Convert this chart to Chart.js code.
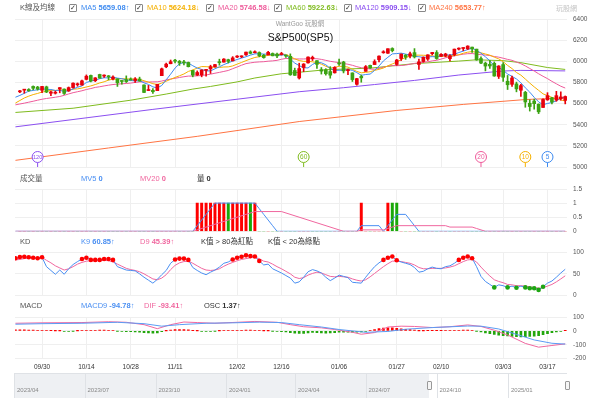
<!DOCTYPE html>
<html>
<head>
<meta charset="utf-8">
<script src="https://cdn.jsdelivr.net/npm/chart.js@4.4.1/dist/chart.umd.min.js"></script>
<style>
  body { margin: 0; background: #fff; font-family: 'Liberation Sans', 'Noto Sans CJK TC', sans-serif; }
  #wrap { position: relative; width: 600px; height: 398px; overflow: hidden; }
  canvas { position: absolute; left: 0; }
  .t { position: absolute; font-size: 7.5px; line-height: 10px; white-space: nowrap; }
  .cb { position: absolute; width: 6px; height: 6px; border: 1px solid #888; border-radius: 1px;
        font: 7px/6px 'DejaVu Sans', sans-serif; text-align: center; color: #333; }
  #nav { position: absolute; left: 14px; top: 373px; width: 553px; height: 25px; border-top: 1px solid #dfe2e6; }
</style>
</head>
<body>
<div id="wrap">
  <canvas id="cMain" width="600" height="176"></canvas>
  <canvas id="cVol" width="600" height="58"></canvas>
  <canvas id="cKD" width="600" height="55"></canvas>
  <canvas id="cMacd" width="600" height="64"></canvas>
  <div id="nav"></div>
</div>
<script>
// ---- data (trading days 0..123, 2024/09/23 - 2025/03/21) ----
const opens = [
  5711,5727,5733,5762,5756,5726,5758,5698,5698,5738,
  5737,5719,5751,5778,5775,5829,5866,5816,5875,5860,
  5858,5833,5834,5817,5826,5833,5818,5832,5776,5723,
  5725,5722,5864,5948,5977,6009,6000,5986,5989,5913,
  5870,5872,5914,5928,5948,5992,5992,6015,6004,6040,
  6042,6061,6089,6081,6083,6057,6060,6074,6068,6064,
  6052,6047,5913,5842,5941,5985,6024,6006,5920,5920,
  5903,5891,5983,5993,5911,5890,5782,5857,5905,5962,
  5969,6015,6081,6076,6121,5970,6026,6058,6050,6082,
  5970,5998,6021,6072,6083,6046,6049,6025,6061,6115,
  6121,6118,6134,6115,6026,5982,5971,5981,5857,5969,
  5811,5782,5786,5726,5706,5603,5624,5594,5563,5635,
  5655,5633,5646,5630];
const highs = [
  5725,5735,5741,5767,5763,5763,5765,5719,5718,5751,
  5739,5757,5796,5795,5822,5871,5870,5846,5878,5872,
  5866,5863,5834,5817,5862,5843,5847,5850,5777,5772,
  5741,5783,5936,5983,6012,6018,6008,6008,5993,5916,
  5909,5920,5920,5963,5972,6020,6025,6020,6044,6053,
  6052,6088,6099,6099,6089,6065,6093,6079,6078,6085,
  6057,6070,5935,5982,5978,6041,6049,6007,5941,5930,
  5949,5949,6021,6000,5927,5891,5838,5871,5960,5964,
  6014,6051,6100,6119,6128,6018,6070,6064,6087,6120,
  6022,6042,6062,6084,6101,6073,6076,6063,6116,6127,
  6129,6147,6134,6115,6043,5992,6009,5994,5959,5987,
  5866,5861,5803,5783,5716,5636,5642,5597,5645,5703,
  5659,5716,5711,5672];
const lows = [
  5704,5698,5715,5730,5727,5704,5703,5674,5690,5702,
  5686,5715,5745,5764,5775,5824,5805,5808,5840,5848,
  5824,5824,5762,5784,5799,5822,5801,5811,5703,5723,
  5696,5722,5864,5939,5976,5985,5961,5966,5946,5853,
  5865,5853,5860,5885,5945,5963,5992,5984,6003,6035,
  6034,6056,6070,6080,6042,6029,6060,6051,6035,6059,
  6036,5867,5866,5832,5902,5983,6007,5932,5879,5869,
  5840,5888,5961,5890,5874,5809,5774,5802,5905,5933,
  5969,5994,6076,6075,6089,5962,6007,6018,6033,6031,
  5923,5991,6008,6060,6019,6046,6042,6003,6051,6107,
  6100,6111,6085,6009,5977,5909,5933,5858,5837,5810,
  5733,5762,5711,5667,5565,5529,5547,5505,5563,5631,
  5597,5622,5632,5597];
const closes = [
  5718,5732,5722,5745,5738,5762,5709,5710,5700,5751,
  5696,5751,5793,5780,5815,5859,5815,5843,5841,5864,
  5853,5851,5797,5809,5808,5823,5833,5813,5705,5729,
  5712,5782,5929,5973,5996,6001,5984,5985,5949,5870,
  5894,5917,5917,5949,5969,5987,6021,5999,6032,6047,
  6050,6087,6075,6090,6053,6035,6085,6052,6051,6074,
  6050,5872,5867,5931,5974,6040,6037,5971,5907,5882,
  5869,5942,5975,5909,5918,5827,5836,5843,5950,5937,
  5997,6049,6086,6119,6101,6012,6068,6039,6071,6041,
  5995,6038,6061,6084,6026,6066,6069,6052,6115,6115,
  6129,6144,6117,6013,5983,5955,5956,5861,5955,5849,
  5778,5842,5739,5770,5615,5572,5599,5522,5639,5675,
  5615,5675,5663,5667];

// moving averages, first value is day -1
const ma5 = [
  5660,5677,5697,5718,5724,5731,5740,5735,5733,5724,5726,
  5713,5722,5738,5754,5767,5800,5812,5822,5835,5844,
  5843,5850,5841,5835,5824,5818,5814,5817,5796,5781,
  5758,5748,5771,5825,5878,5936,5977,5988,5983,5958,
  5936,5923,5909,5909,5929,5948,5969,5985,6002,6017,
  6030,6043,6058,6070,6071,6068,6068,6063,6055,6059,
  6062,6020,5983,5959,5939,5937,5970,5991,5986,5967,
  5933,5914,5915,5915,5923,5914,5893,5867,5875,5879,
  5913,5955,6004,6038,6070,6073,6077,6068,6058,6046,
  6043,6037,6041,6044,6041,6055,6061,6059,6066,6083,
  6096,6111,6124,6104,6077,6042,6005,5954,5942,5915,
  5880,5857,5833,5796,5749,5708,5659,5616,5589,5601,
  5610,5625,5653,5659];
const ma10 = [
  5605,5629,5653,5670,5685,5696,5709,5716,5726,5724,5729,
  5727,5729,5736,5739,5747,5757,5767,5780,5795,5806,
  5822,5831,5832,5835,5834,5831,5832,5829,5816,5803,
  5788,5781,5794,5811,5830,5847,5863,5880,5904,5918,
  5936,5950,5949,5946,5944,5942,5946,5947,5956,5973,
  5989,6006,6022,6036,6044,6049,6056,6061,6063,6065,
  6065,6044,6023,6007,5999,6000,5995,5987,5973,5953,
  5935,5942,5953,5951,5945,5924,5904,5891,5895,5901,
  5914,5924,5936,5957,5975,5993,6016,6036,6048,6058,
  6058,6057,6055,6051,6044,6049,6049,6050,6055,6062,
  6076,6086,6092,6085,6080,6069,6058,6039,6023,5996,
  5961,5931,5894,5869,5832,5794,5758,5725,5692,5675,
  5659,5642,5635,5624];
const ma20 = [
  5588,5596,5604,5613,5622,5632,5641,5648,5654,5660,5667,
  5678,5691,5703,5712,5721,5733,5742,5753,5759,5767,
  5774,5780,5784,5787,5790,5794,5800,5805,5805,5804,
  5805,5806,5813,5823,5832,5839,5847,5854,5860,5860,
  5862,5866,5871,5878,5887,5895,5904,5913,5930,5946,
  5963,5978,5985,5991,5994,5996,6001,6004,6009,6019,
  6027,6025,6022,6022,6022,6024,6025,6024,6018,6009,
  6000,5993,5988,5979,5972,5962,5949,5939,5934,5927,
  5924,5933,5944,5954,5960,5958,5960,5964,5972,5980,
  5986,5991,5995,6004,6009,6021,6033,6043,6052,6060,
  6067,6072,6073,6068,6062,6059,6054,6045,6039,6029,
  6018,6009,5993,5977,5956,5932,5908,5882,5858,5836,
  5810,5787,5764,5747];
// slow averages read at some days: [day, value]
const ma60 = [[-1,5516],[12,5556],[25,5632],[33,5690],[39,5737],[43,5762],[49,5805],[53,5842],[59,5882],
  [63,5896],[69,5920],[79,5935],[89,5978],[99,6002],[103,6014],[109,6006],[113,5987],[119,5941],[123,5923]];
const ma120 = [[-1,5380],[30,5545],[63,5712],[73,5750],[80,5780],[89,5819],[99,5870],[109,5908],
  [113,5914],[119,5911],[123,5909]];
const ma240 = [[-1,5063],[20,5180],[40,5290],[63,5430],[85,5535],[100,5592],[114,5638],[123,5654]];

const maNames = ['MA5', 'MA10', 'MA20', 'MA60', 'MA120', 'MA240'];
const maPeriods = [5, 10, 20, 60, 120, 240];
const maLatest = ['5659.08', '5624.18', '5746.58', '5922.63', '5909.15', '5653.77'];
const maTrend = ['↑', '↓', '↓', '↓', '↓', '↑'];

// volume panel
const volumes = [
  0,0,0,0,0,0,0,0,0,0, 0,0,0,0,0,0,0,0,0,0,
  0,0,0,0,0,0,0,0,0,0, 0,0,0,0,0,0,0,0,0,0,
  1,1,1,1,1,1,1,1,1,1, 1,1,1,1,0,0,0,0,0,0,
  0,0,0,0,0,0,0,0,0,0, 0,0,0,0,0,0,0,1,0,0,
  0,0,0,1,1,1,0,0,0,0, 0,0,0,0,0,0,0,0,0,0,
  0,0,0,0,0,0,0,0,0,0, 0,0,0,0,0,0,0,0,0,0,
  0,0,0,0];
const mv5 = [[-1,0],[39,0],[40,0.2],[41,0.4],[42,0.6],[43,0.8],[44,1],[53,1],[54,0.8],[55,0.6],[56,0.4],
  [57,0.2],[58,0],[76,0],[77,0.2],[81,0.2],[82,0],[83,0.2],[84,0.4],[85,0.6],[87,0.6],[88,0.4],[89,0.2],[90,0],[123,0]];
const mv20 = [[-1,0],[39,0],[53,0.7],[59,0.7],[73,0],[76,0],[77,0.05],[82,0.05],[83,0.1],[84,0.15],[85,0.2],
  [96,0.2],[97,0.15],[102,0.15],[103,0.1],[104,0.05],[105,0],[123,0]];

// KD, first value is day -1
const kVals = [
  86.8,89.8,90.5,89.1,88.2,86.8,89.1,67,58,49,
  59,49,62,72,79,85,88,83,83,83,
  85,85,83,67,63,59,58,57,50,42,
  35,28,37,48,58,75,84,86,86,83,
  65,58,52,48,54,59,66,75,78,84,
  88,90.5,93.7,92,91,80.5,71,73,62,57,
  52,46,40,28,31,42,55,60,57,52,
  42,34,40,47,44,41,30,29,28,42,
  55,67,76,83,88,91,82,78,75,72,
  65,54,56,62,66,63,62,67,69,75,
  83,88,91,87,67,44,32,25,18,24,
  22,18,21,17,21,18,16,16,12,19.5,
  28,33,42,52,60.85];
const dVals = [
  83,84,86,87,88,88,89,82,76,69,
  64,59,62,67,73,77,80,81,81,81,
  82,81,78,73,68,63,60,58,55,50,
  44,38,36,40,48,60,70,76,79,80,
  75,69,63,59,58,59,62,68,73,77,
  81,84,86,88,89,86,80,78,73,67,
  62,56,50,42,39,41,47,51,54,52,
  48,44,43,44,43,42,38,35,33,36,
  43,51,59,67,74,80,80,79,77,75,
  71,65,62,62,63,63,63,64,66,69,
  74,79,83,84,78,66,55,45,36,32,
  29,25,24,22,22,21,19,18,16,17,
  21,25,31,38,45.39];

// MACD, OSC first value is day -1
const difPts = [[-1,55],[5,58],[14,60],[20,66],[24,62],[28,45],[31,16],[34,45],[37,64],[40,60],[44,55],[49,62],
  [53,68],[58,62],[61,45],[64,30],[68,22],[71,10],[75,-10],[77,-24],[80,-12],[83,28],[86,34],[89,32],[93,24],
  [97,30],[101,43],[104,32],[107,5],[110,-29],[114,-90],[117,-117],[120,-105],[123,-93.41]];
const macdPts = [[-1,48],[5,52],[14,55],[22,62],[28,52],[32,34],[36,45],[42,55],[48,58],[54,63],[59,60],[63,45],
  [68,28],[72,10],[78,-10],[83,-4],[87,12],[93,24],[101,35],[104,34],[108,14],[112,-25],[116,-65],[120,-89],[123,-94.78]];
const osc = [
  7,8,7,6,6,5,5,4,1,0.5,
  0.5,-3,-3,-0.5,0.5,3,5,4,5,6,
  6,5,4,-2,-4,-5,-6,-8,-10,-12,
  -15,-17,-15,-6,0.5,6,9,10,9,7,
  1,0.5,-3,-4,-3,-0.5,0.5,3,4,4,
  5,5,6,6,5,3,0.5,0.5,-0.5,-4,
  -5,-7,-12,-16,-18,-18,-15,-11,-12,-14,
  -16,-15,-13,-10,-9,-9,-10,-10,-8,-3,
  4,10,16,20,22,22,18,15,12,9,
  6,0.5,0.5,1,2,2,2,3,3,4,
  5,6,6,4,-1,-8,-14,-20,-26,-30,
  -34,-37,-40,-42,-43,-42,-40,-38,-35,-28,
  -20,-13,-7,-3,1.37];

const tickDays = [5, 15, 25, 35, 49, 59, 72, 85, 95, 109, 119];
const tickLabels = ['09/30', '10/14', '10/28', '11/11', '12/02', '12/16', '01/06', '01/27', '02/10', '03/03', '03/17'];
const navLabels = ['2023/04', '2023/07', '2023/10', '2024/01', '2024/04', '2024/07', '2024/10', '2025/01'];

// ---- styles ----
const RED = '#e8000b', GREEN = '#3ca314';
const maColors = ['#3d8af0', '#f5b000', '#ee5a9a', '#7fbb1e', '#8b4ff0', '#ff7443'];
const BLUE = '#4a8ff2', PINK = '#f0679f';
const GRID = '#efefef';

Chart.defaults.font.family = "'Liberation Sans', 'Noto Sans CJK TC', sans-serif";
Chart.defaults.animation = false;

const N = closes.length;
const seq = (arr, from) => arr.map((v, i) => ({x: i + from, y: v}));
const pts = list => list.map(([x, y]) => ({x, y}));

function xAxis(showLabels) {
  return {
    type: 'linear', min: -1.1, max: 123.4, offset: false,
    afterBuildTicks: ax => { ax.ticks = tickDays.map(v => ({value: v})); },
    afterFit: ax => { ax.height = showLabels ? 15.3 : 0; },
    grid: {color: GRID, drawTicks: false, offset: false},
    border: {display: false},
    ticks: {display: showLabels, autoSkip: false, maxRotation: 0, padding: 5,
            font: {size: 6.5}, color: '#333', callback: (v, i) => tickLabels[i]}
  };
}
function yAxis(min, max, step) {
  return {
    position: 'right', min, max,
    // fixed width; drop the label overflow padding so the plot keeps its exact height
    afterFit: ax => { ax.width = 33; ax.paddingTop = 0; ax.paddingBottom = 0; },
    grid: {color: GRID, drawTicks: false},
    border: {display: false},
    ticks: {stepSize: step, padding: 6, font: {size: 6.5}, color: '#555', callback: v => String(v)}
  };
}
function line(data, color, width) {
  return {type: 'line', data, borderColor: color, borderWidth: width || 1, pointRadius: 0, tension: 0, order: 1};
}
function panel(id, top, padTop, padBottom, y, datasets, showX, plugins) {
  const cv = document.getElementById(id);
  cv.style.top = top + 'px';
  return new Chart(cv, {
    type: 'bar',
    data: {datasets},
    options: {
      responsive: false, devicePixelRatio: 1, events: [],
      layout: {padding: {left: 15, right: 0, top: padTop, bottom: padBottom}},
      plugins: {legend: {display: false}, tooltip: {enabled: false}},
      scales: {x: xAxis(showX), y}
    },
    plugins: plugins || []
  });
}

// markers showing where each moving-average window starts
const maMarks = {
  id: 'maMarks',
  afterDatasetsDraw(chart) {
    const {ctx, chartArea, scales: {x}} = chart;
    maPeriods.forEach((p, k) => {
      const day = N - p;
      if (day < 0) return;
      const px = x.getPixelForValue(day), cy = chartArea.bottom - 10;
      ctx.save();
      ctx.strokeStyle = maColors[k];
      ctx.lineWidth = 1;
      ctx.beginPath(); ctx.moveTo(px, cy + 5.5); ctx.lineTo(px, chartArea.bottom); ctx.stroke();
      ctx.beginPath(); ctx.arc(px, cy, 5.5, 0, Math.PI * 2);
      ctx.fillStyle = '#fff'; ctx.fill(); ctx.stroke();
      ctx.fillStyle = maColors[k];
      ctx.font = (p >= 100 ? 5.5 : 6.5) + "px 'Liberation Sans'";
      ctx.textAlign = 'center'; ctx.textBaseline = 'middle';
      ctx.fillText(String(p), px, cy + 0.5);
      ctx.restore();
    });
  }
};

const days = closes.map((c, i) => i);
const candleColor = ctx => closes[ctx.dataIndex] >= opens[ctx.dataIndex] ? RED : GREEN;

panel('cMain', 0, 19, 9, yAxis(5000, 6400, 200), [
  {type: 'bar', data: days.map(i => ({x: i, y: [opens[i], closes[i]]})), backgroundColor: candleColor,
   barThickness: 3, minBarLength: 1, grouped: false, order: 0},
  {type: 'bar', data: days.map(i => ({x: i, y: [lows[i], highs[i]]})), backgroundColor: candleColor,
   barThickness: 1, grouped: false, order: 0},
  line(seq(ma5, -1), maColors[0]),
  line(seq(ma10, -1), maColors[1]),
  line(seq(ma20, -1), maColors[2]),
  line(pts(ma60), maColors[3]),
  line(pts(ma120), maColors[4]),
  line(pts(ma240), maColors[5])
], false, [maMarks]);

panel('cVol', 180, 9, 6.7, yAxis(0, 1.5, 0.5), [
  line(pts(mv20), PINK),
  line(pts(mv5), BLUE),
  {type: 'bar', data: days.map(i => ({x: i, y: volumes[i]})), barThickness: 2.3, grouped: false, order: 2,
   backgroundColor: ctx => closes[ctx.dataIndex] >= (ctx.dataIndex ? closes[ctx.dataIndex - 1] : opens[0]) ? '#ff0000' : '#1aa80a'}
], false);

const dotR = ctx => { const v = ctx.raw && ctx.raw.y; return v > 80 || v < 20 ? 2.3 : 0; };
const dotC = ctx => (ctx.raw && ctx.raw.y < 20) ? '#1ea512' : '#ff0000';
panel('cKD', 246, 6.7, 6, yAxis(0, 100, 50), [
  {type: 'line', data: seq(kVals, -1), borderColor: BLUE, borderWidth: 1, tension: 0, order: 0,
   pointRadius: dotR, pointBackgroundColor: dotC, pointBorderWidth: 0},
  line(seq(dVals, -1), PINK)
], false);

panel('cMacd', 310, 7, 0, yAxis(-200, 100, 100), [
  line(pts(macdPts), '#5b9cf4'),
  line(pts(difPts), PINK),
  {type: 'bar', data: seq(osc, -1), barThickness: 2, grouped: false, order: 2,
   backgroundColor: ctx => osc[ctx.dataIndex] >= 0 ? '#ff0000' : '#22a60c'}
], true);

// ---- texts ----
const wrap = document.getElementById('wrap');
function put(x, cy, html, color, size) {
  const d = document.createElement('div');
  d.className = 't';
  d.style.left = x + 'px';
  d.style.top = (cy - 5) + 'px';
  if (color) d.style.color = color;
  if (size) d.style.fontSize = size + 'px';
  d.innerHTML = html;
  wrap.appendChild(d);
  return d;
}
function box(x, cy) {
  const d = document.createElement('div');
  d.className = 'cb';
  d.style.left = x + 'px';
  d.style.top = (cy - 4) + 'px';
  d.textContent = '✓';
  wrap.appendChild(d);
}

put(20, 8, 'K線及均線', '#555');
const cbX = [69, 135, 206, 274, 344, 418], txtX = [81, 147, 218, 286, 355, 429];
maNames.forEach((n, k) => {
  box(cbX[k], 8);
  put(txtX[k], 8, `${n} <b>${maLatest[k]}</b>${maTrend[k]}`, maColors[k]);
});
put(556, 9, '玩股網', '#c4c4c4', 7);

const t1 = put(0, 24, 'WantGoo 玩股網', '#999', 6.5);
t1.style.width = '600px'; t1.style.textAlign = 'center';
const t2 = put(0, 37, 'S&amp;P500(SP5)', '#111', 10.5);
t2.style.width = '601px'; t2.style.textAlign = 'center'; t2.style.lineHeight = '12px'; t2.style.top = '31px';

const last = a => a[a.length - 1];
const lastPt = a => last(a)[1];
put(20, 179, '成交量', '#555');
put(81, 179, `MV5 <b>${lastPt(mv5)}</b>`, BLUE);
put(140, 179, `MV20 <b>${lastPt(mv20)}</b>`, PINK);
put(197, 179, `量 <b>${last(volumes)}</b>`, '#333');

put(20, 242, 'KD', '#555');
put(81, 242, `K9 <b>${last(kVals).toFixed(2)}</b>↑`, BLUE);
put(140, 242, `D9 <b>${last(dVals).toFixed(2)}</b>↑`, PINK);
put(201, 242, 'K值 &gt; 80為紅點', '#333');
put(268, 242, 'K值 &lt; 20為綠點', '#333');

put(20, 306, 'MACD', '#555');
put(81, 306, `MACD9 <b>${lastPt(macdPts).toFixed(2)}</b>↑`, BLUE);
put(144, 306, `DIF <b>${lastPt(difPts).toFixed(2)}</b>↑`, PINK);
put(204, 306, `OSC <b>${last(osc).toFixed(2)}</b>↑`, '#333');

// ---- range navigator ----
const nav = document.getElementById('nav');
nav.innerHTML = '<div style="position:absolute;left:0;top:0;width:415px;height:25px;background:#eef0f3"></div>';
const sepX = [14, 84.5, 155.5, 226, 295, 365.5, 436.5, 508];
navLabels.forEach((s, k) => {
  const x = sepX[k] - 14;
  nav.insertAdjacentHTML('beforeend',
    `<div style="position:absolute;left:${x}px;top:0;width:1px;height:25px;background:#dfe2e6"></div>` +
    `<div style="position:absolute;left:${x + 3}px;top:12px;font-size:6px;line-height:8px;color:#888">${s}</div>`);
});
[429, 567].forEach(x => {
  nav.insertAdjacentHTML('beforeend',
    `<div style="position:absolute;left:${x - 14 - 2}px;top:7px;width:3px;height:7px;border:1px solid #999;border-radius:1px;background:#f6f6f6"></div>`);
});
</script>
</body>
</html>
